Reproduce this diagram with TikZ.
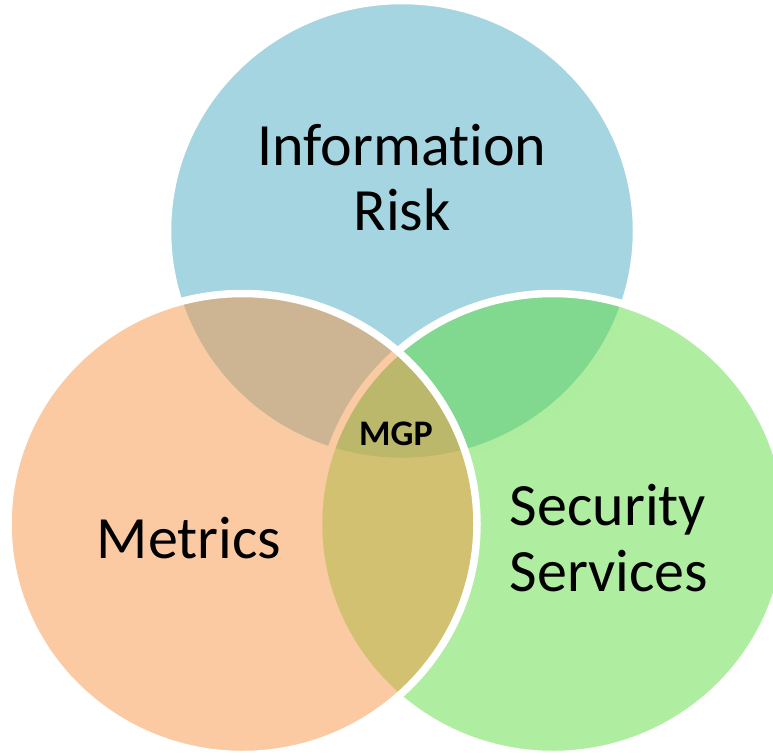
\documentclass[tikz,border=0pt]{standalone}
\usepackage{fontspec}
\setmainfont[Ligatures={NoCommon}]{Carlito}
\definecolor{bluebase}{RGB}{75,171,195}
\definecolor{orangebase}{RGB}{247,150,70}
\definecolor{greenbase}{RGB}{95,221,65}
\tikzset{
  venn/.style={draw=white, line width=7.5pt, fill opacity=0.5, draw opacity=1},
  bigtext/.style={anchor=base, inner sep=0pt, font=\fontsize{60}{65}\selectfont, text=black},
  smalltext/.style={anchor=base, inner sep=0pt, font=\fontsize{36}{40}\selectfont\bfseries, text=black}
}
\begin{document}
\begin{tikzpicture}[x=1pt, y=-1pt]
\useasboundingbox (0,0) rectangle (773,755);
% circles: blue, green, orange (drawing order)
\path[venn, fill=bluebase] (402,231) ellipse [x radius=234.5, y radius=230.5];
\path[venn, fill=greenbase] (553,524) ellipse [x radius=234.5, y radius=230.5];
\path[venn, fill=orangebase] (242.5,524) ellipse [x radius=234.5, y radius=230.5];
% labels
\node[bigtext] (info) at (402,165) {Information};
\node[bigtext] (risk) at (402,230) {Risk};
\node[bigtext] (metrics) at (189,558) {Metrics};
\node[bigtext] (security) at (608,525) {Security};
\node[bigtext] (services) at (609,591) {Services};
\node[smalltext] (mgp) at (396,445) {MGP};
\end{tikzpicture}
\end{document}
